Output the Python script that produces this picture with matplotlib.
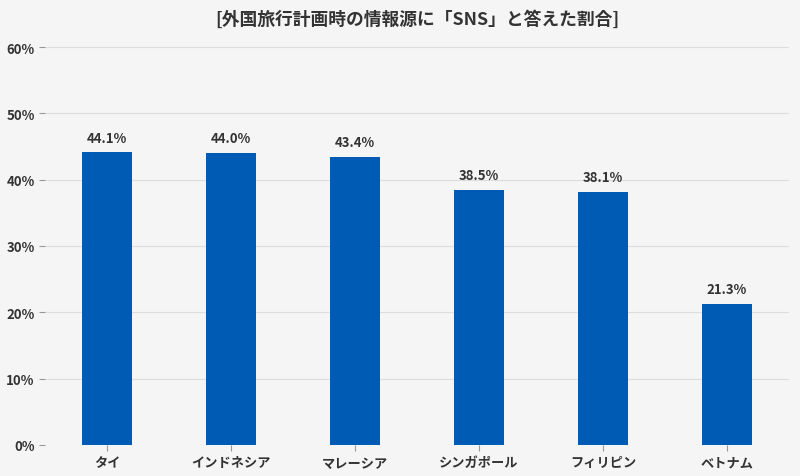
import matplotlib.pyplot as plt
from matplotlib.ticker import FuncFormatter

plt.rcParams['font.family'] = ['Noto Sans CJK JP', 'DejaVu Sans']

countries = ["タイ", "インドネシア", "マレーシア", "シンガポール", "フィリピン", "ベトナム"]
values = [44.1, 44.0, 43.4, 38.5, 38.1, 21.3]
title = "[外国旅行計画時の情報源に「SNS」と答えた割合]"

bg = "#f5f5f5"
fig = plt.figure(figsize=(8, 4.77), dpi=100, facecolor=bg)
ax = fig.add_axes([45 / 800, 31 / 477, 744 / 800, 398 / 477], facecolor=bg)

x = range(len(countries))
ax.bar(x, values, width=0.4, color="#005bb5", zorder=3)
for xi, v in zip(x, values):
    ax.text(xi, v + 1.2, f"{v:.1f}%", ha="center", va="bottom",
            fontsize=9.5, fontweight="bold", color="#333333")

ax.set_xlim(-0.5, len(countries) - 0.5)
ax.set_ylim(0, 60)
ax.set_yticks(range(0, 61, 10))
ax.yaxis.set_major_formatter(FuncFormatter(lambda v, p: f"{v:.0f}%"))
ax.set_xticks(list(x))
ax.set_xticklabels(countries)
ax.grid(axis="y", color="#dddddd", linewidth=0.8, zorder=0)
for s in ax.spines.values():
    s.set_visible(False)
ax.tick_params(axis="both", colors="#999999", labelcolor="#333333",
               labelsize=9.5, length=4, width=0.8)
for lbl in ax.get_xticklabels() + ax.get_yticklabels():
    lbl.set_fontweight("bold")

fig.text(417 / 800, 1 - 20 / 477, title, ha="center", va="center",
         fontsize=12.8, fontweight="bold", color="#333333")

fig.savefig("out.png", dpi=100, facecolor=bg)
